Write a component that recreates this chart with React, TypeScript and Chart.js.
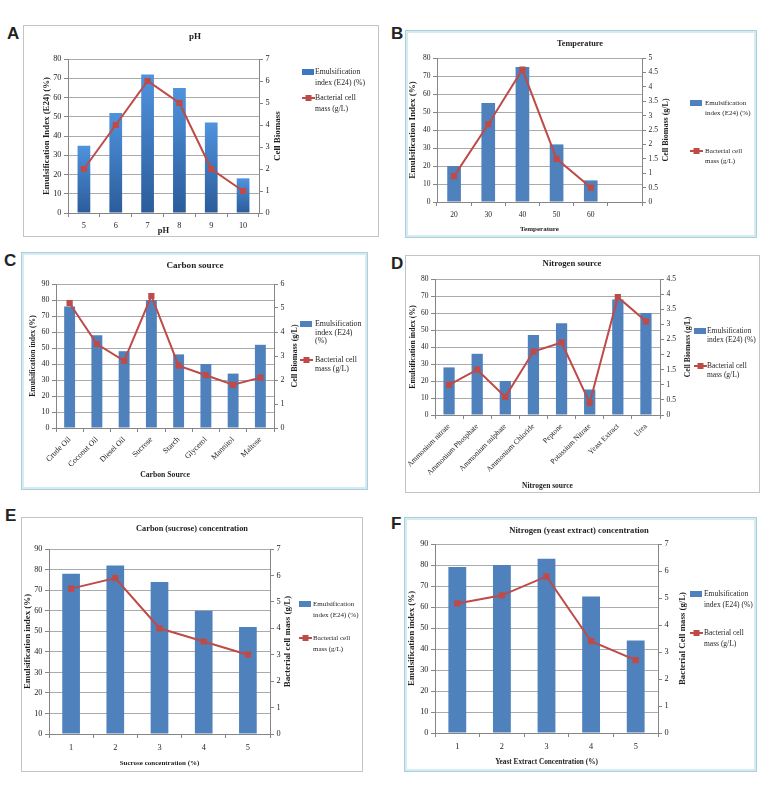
import React, { useEffect, useRef } from 'react';
import { Chart, registerables } from 'chart.js';

Chart.register(...registerables);

// ---------------- data ----------------
const phLabels = ['5', '6', '7', '8', '9', '10'];
const phEmulsification = [35, 52, 72, 65, 47, 18];
const phBiomass = [2, 4, 6, 5, 2, 1];

const tempLabels = ['20', '30', '40', '50', '60', ''];
const tempEmulsification = [20, 55, 75, 32, 12, null];
const tempBiomass = [0.9, 2.7, 4.6, 1.5, 0.5, null];

const carbonLabels = ['Crude Oil', 'Coconut Oil', 'Diesel Oil', 'Sucrose', 'Starch', 'Glycerol', 'Mannitol', 'Maltose'];
const carbonEmulsification = [76, 58, 48, 80, 46, 40, 34, 52];
const carbonBiomass = [5.2, 3.5, 2.8, 5.5, 2.6, 2.2, 1.8, 2.1];

const nitrogenLabels = ['Ammonium nitrate', 'Ammonium Phosphate', 'Ammonium sulphate', 'Ammonium Chloride', 'Peptone', 'Potassium Nitrate', 'Yeast Extract', 'Urea'];
const nitrogenEmulsification = [28, 36, 20, 47, 54, 15, 68, 60];
const nitrogenBiomass = [1.0, 1.5, 0.6, 2.1, 2.4, 0.4, 3.9, 3.1];

const sucroseLabels = ['1', '2', '3', '4', '5'];
const sucroseEmulsification = [78, 82, 74, 60, 52];
const sucroseBiomass = [5.5, 5.9, 4.0, 3.5, 3.0];

const yeastLabels = ['1', '2', '3', '4', '5'];
const yeastEmulsification = [79, 80, 83, 65, 44];
const yeastBiomass = [4.8, 5.1, 5.8, 3.4, 2.7];

const barLabel = 'Emulsification index (E24) (%)';
const lineLabel = 'Bacterial cell mass (g/L)';

// ---------------- styles ----------------
const FONT = "'Liberation Serif', 'Times New Roman', serif";
const BAR_BLUE = '#4f81bd';
const LINE_RED = '#be4b48';
const GRID = '#ababab';
const AXIS = '#868686';
const TEXT = '#1e1e1e';
const RIGHT_W = 25;
const LH = 1.2;

type Box = { x: number; y: number; w: number; h: number };
type Sizes = { tick: number; yTitle: number; y1Title: number; xTitle: number; title: number; legend: number };
type Panel = {
  letter: string;
  letterPos: [number, number];
  frame: Box;
  cyan: boolean;
  plot: { l: number; t: number; r: number; b: number };
  sizes: Sizes;
  title: string;
  titlePos: [number, number];
  xTitle: string;
  xTitleY: number;
  xLabelY: number;
  yTitle: string;
  yTitleX: number;
  y1Title: string;
  y1TitleX: number;
  labels: string[];
  bars: (number | null)[];
  line: (number | null)[];
  yMax: number;
  yStep: number;
  y1Max: number;
  y1Step: number;
  rotate: number;
  gradient: boolean;
  legend: { swatchX: number; textX: number; barY: number; lineY: number; spacing: number; barLines: string[]; lineLines: string[] };
};

const panels: Panel[] = [
  {
    letter: 'A', letterPos: [7, 25],
    frame: { x: 23, y: 25, w: 356, h: 212 }, cyan: false,
    plot: { l: 68, t: 59, r: 259, b: 213 },
    sizes: { tick: 8.3, yTitle: 8.8, y1Title: 9, xTitle: 8.5, title: 9, legend: 7.7 },
    title: 'pH', titlePos: [195, 37],
    xTitle: 'pH', xTitleY: 231, xLabelY: 226,
    yTitle: 'Emulsification Index (E24) (%)', yTitleX: 47,
    y1Title: 'Cell Biomass', y1TitleX: 278,
    labels: phLabels, bars: phEmulsification, line: phBiomass,
    yMax: 80, yStep: 10, y1Max: 7, y1Step: 1, rotate: 0, gradient: true,
    legend: { swatchX: 302, textX: 315, barY: 72, lineY: 98, spacing: 11, barLines: ['Emulsification', 'index (E24) (%)'], lineLines: ['Bacterial cell', 'mass (g/L)'] },
  },
  {
    letter: 'B', letterPos: [391, 25],
    frame: { x: 405, y: 30, w: 352, h: 208 }, cyan: true,
    plot: { l: 437, t: 58, r: 642, b: 202 },
    sizes: { tick: 7.5, yTitle: 9, y1Title: 8, xTitle: 7, title: 8.3, legend: 7 },
    title: 'Temperature', titlePos: [580, 44],
    xTitle: 'Temperature', xTitleY: 229, xLabelY: 215,
    yTitle: 'Emulsification Index (%)', yTitleX: 413,
    y1Title: 'Cell Biomass (g/L)', y1TitleX: 666,
    labels: tempLabels, bars: tempEmulsification, line: tempBiomass,
    yMax: 80, yStep: 10, y1Max: 5, y1Step: 0.5, rotate: 0, gradient: false,
    legend: { swatchX: 690, textX: 705, barY: 103, lineY: 151, spacing: 10.5, barLines: ['Emulsification', 'index (E24) (%)'], lineLines: ['Bacterial cell', 'mass (g/L)'] },
  },
  {
    letter: 'C', letterPos: [4, 252],
    frame: { x: 21, y: 252, w: 347, h: 238 }, cyan: true,
    plot: { l: 56, t: 284, r: 274, b: 428 },
    sizes: { tick: 7.9, yTitle: 7.6, y1Title: 8, xTitle: 7.7, title: 9.1, legend: 7.9 },
    title: 'Carbon source', titlePos: [195, 266],
    xTitle: 'Carbon Source', xTitleY: 475, xLabelY: 436,
    yTitle: 'Emulsification index (%)', yTitleX: 33,
    y1Title: 'Cell Biomass (g/L)', y1TitleX: 295,
    labels: carbonLabels, bars: carbonEmulsification, line: carbonBiomass,
    yMax: 90, yStep: 10, y1Max: 6, y1Step: 1, rotate: 45, gradient: false,
    legend: { swatchX: 300, textX: 315, barY: 324, lineY: 360, spacing: 8.5, barLines: ['Emulsification', 'index (E24)', '(%)'], lineLines: ['Bacterial cell', 'mass (g/L)'] },
  },
  {
    letter: 'D', letterPos: [391, 255],
    frame: { x: 405, y: 255, w: 355, h: 238 }, cyan: false,
    plot: { l: 435, t: 279, r: 660, b: 415 },
    sizes: { tick: 7.5, yTitle: 7.8, y1Title: 7.7, xTitle: 7.5, title: 8.7, legend: 7.5 },
    title: 'Nitrogen source', titlePos: [572, 264],
    xTitle: 'Nitrogen source', xTitleY: 486, xLabelY: 423,
    yTitle: 'Emulsification index (%)', yTitleX: 413,
    y1Title: 'Cell Biomass (g/L)', y1TitleX: 688,
    labels: nitrogenLabels, bars: nitrogenEmulsification, line: nitrogenBiomass,
    yMax: 80, yStep: 10, y1Max: 4.5, y1Step: 0.5, rotate: 45, gradient: false,
    legend: { swatchX: 694, textX: 707, barY: 331, lineY: 366, spacing: 9, barLines: ['Emulsification', 'index (E24) (%)'], lineLines: ['Bacterial cell', 'mass (g/L)'] },
  },
  {
    letter: 'E', letterPos: [5, 507],
    frame: { x: 21, y: 517, w: 342, h: 255 }, cyan: false,
    plot: { l: 49, t: 549, r: 270, b: 734 },
    sizes: { tick: 8.3, yTitle: 8.9, y1Title: 8.9, xTitle: 7, title: 8.3, legend: 7 },
    title: 'Carbon (sucrose) concentration', titlePos: [192, 529],
    xTitle: 'Sucrose concentration (%)', xTitleY: 763, xLabelY: 748,
    yTitle: 'Emulsification index (%)', yTitleX: 28,
    y1Title: 'Bacterial cell mass (g/L)', y1TitleX: 288,
    labels: sucroseLabels, bars: sucroseEmulsification, line: sucroseBiomass,
    yMax: 90, yStep: 10, y1Max: 7, y1Step: 1, rotate: 0, gradient: false,
    legend: { swatchX: 299, textX: 313, barY: 604, lineY: 638, spacing: 11.5, barLines: ['Emulsification', 'index (E24) (%)'], lineLines: ['Bacterial cell', 'mass (g/L)'] },
  },
  {
    letter: 'F', letterPos: [391, 515],
    frame: { x: 404, y: 517, w: 353, h: 255 }, cyan: true,
    plot: { l: 435, t: 544, r: 658, b: 733 },
    sizes: { tick: 8.3, yTitle: 8.9, y1Title: 8.8, xTitle: 7.3, title: 8.6, legend: 7.5 },
    title: 'Nitrogen (yeast extract) concentration', titlePos: [579, 531],
    xTitle: 'Yeast Extract Concentration (%)', xTitleY: 762, xLabelY: 747,
    yTitle: 'Emulsification index (%)', yTitleX: 412,
    y1Title: 'Bacterial Cell mass (g/L)', y1TitleX: 683,
    labels: yeastLabels, bars: yeastEmulsification, line: yeastBiomass,
    yMax: 90, yStep: 10, y1Max: 7, y1Step: 1, rotate: 0, gradient: false,
    legend: { swatchX: 690, textX: 704, barY: 594, lineY: 633, spacing: 11, barLines: ['Emulsification', 'index (E24) (%)'], lineLines: ['Bacterial cell', 'mass (g/L)'] },
  },
];

function PanelChart({ p }: { p: Panel }) {
  const ref = useRef<HTMLCanvasElement | null>(null);
  useEffect(() => {
    const canvas = ref.current;
    if (!canvas) return;
    const f = p.frame;
    const s = p.sizes;
    const padRight = f.w - (p.plot.r - f.x) - RIGHT_W;
    const tickFont = { family: FONT, size: s.tick, lineHeight: LH };
    const xLabelPad = p.rotate ? 3 : Math.max(0, p.xLabelY - p.plot.b - 4 - (s.tick * LH) / 2);
    const xTitlePad = Math.max(0, f.y + f.h - p.xTitleY - (s.xTitle * LH) / 2);
    const yTitlePad = Math.max(0, p.yTitleX - f.x - (s.yTitle * LH) / 2);

    const decor = {
      id: 'decor',
      beforeDraw(chart: any) {
        const ctx = chart.ctx;
        ctx.save();
        ctx.fillStyle = '#ffffff';
        ctx.fillRect(0, 0, f.w, f.h);
        if (p.cyan) {
          ctx.strokeStyle = '#d5eaf1';
          ctx.lineWidth = 3;
          ctx.strokeRect(1.5, 1.5, f.w - 3, f.h - 3);
          ctx.strokeStyle = '#a9d0dc';
          ctx.lineWidth = 1;
          ctx.strokeRect(0.5, 0.5, f.w - 1, f.h - 1);
        } else {
          ctx.strokeStyle = '#c4c4c4';
          ctx.lineWidth = 1;
          ctx.strokeRect(0.5, 0.5, f.w - 1, f.h - 1);
        }
        ctx.restore();
      },
      afterDraw(chart: any) {
        const ctx = chart.ctx;
        const area = chart.chartArea;
        ctx.save();
        ctx.fillStyle = TEXT;
        // chart title
        ctx.font = `bold ${s.title}px ${FONT}`;
        ctx.textAlign = 'center';
        ctx.textBaseline = 'middle';
        ctx.fillText(p.title, p.titlePos[0] - f.x, p.titlePos[1] - f.y);
        // secondary axis title (reads bottom to top)
        ctx.save();
        ctx.translate(p.y1TitleX - f.x, (area.top + area.bottom) / 2);
        ctx.rotate(-Math.PI / 2);
        ctx.font = `bold ${s.y1Title}px ${FONT}`;
        ctx.fillText(p.y1Title, 0, 0);
        ctx.restore();
        // legend
        const lg = p.legend;
        const sx = lg.swatchX - f.x;
        const tx = lg.textX - f.x;
        ctx.font = `${s.legend}px ${FONT}`;
        ctx.textAlign = 'left';
        const barDs = chart.data.datasets[1];
        const lineDs = chart.data.datasets[0];
        ctx.fillStyle = p.gradient ? '#3b78c3' : (barDs.backgroundColor as string);
        ctx.fillRect(sx, lg.barY - f.y - 3, 12, 6);
        ctx.fillStyle = TEXT;
        lg.barLines.forEach((t, i) => ctx.fillText(t, tx, lg.barY - f.y + i * lg.spacing));
        const ly = lg.lineY - f.y;
        ctx.strokeStyle = lineDs.borderColor as string;
        ctx.lineWidth = 2;
        ctx.beginPath();
        ctx.moveTo(sx, ly);
        ctx.lineTo(sx + 13, ly);
        ctx.stroke();
        ctx.fillStyle = lineDs.borderColor as string;
        ctx.fillRect(sx + 6.5 - 3, ly - 3, 6, 6);
        ctx.fillStyle = TEXT;
        lg.lineLines.forEach((t, i) => ctx.fillText(t, tx, ly + i * lg.spacing));
        ctx.restore();
      },
    };

    const barColor = p.gradient
      ? (c: any) => {
          const chart = c.chart;
          const area = chart.chartArea;
          if (!area || c.type !== 'data' || c.raw == null) return BAR_BLUE;
          const top = chart.scales.y.getPixelForValue(c.raw);
          const g = chart.ctx.createLinearGradient(0, top, 0, area.bottom);
          g.addColorStop(0, '#4f93de');
          g.addColorStop(1, '#2b5c9a');
          return g;
        }
      : BAR_BLUE;

    const chart = new Chart(canvas, {
      type: 'bar',
      data: {
        labels: p.labels,
        datasets: [
          {
            type: 'line',
            label: lineLabel,
            data: p.line,
            yAxisID: 'y1',
            borderColor: LINE_RED,
            backgroundColor: LINE_RED,
            borderWidth: 2,
            pointStyle: 'rect',
            pointRadius: 4.4,
            pointBackgroundColor: LINE_RED,
            pointBorderColor: LINE_RED,
            pointBorderWidth: 0,
            tension: 0,
            order: 1,
          } as any,
          {
            type: 'bar',
            label: barLabel,
            data: p.bars,
            yAxisID: 'y',
            backgroundColor: barColor as any,
            barPercentage: 0.4,
            categoryPercentage: 1,
            order: 2,
          } as any,
        ],
      },
      options: {
        responsive: false,
        animation: false,
        events: [],
        layout: { padding: { left: 0, top: p.plot.t - f.y, right: padRight, bottom: 0 } },
        plugins: { legend: { display: false }, title: { display: false }, tooltip: { enabled: false } },
        scales: {
          x: {
            offset: true,
            grid: { display: true, drawOnChartArea: false, drawTicks: true, tickLength: 4, offset: true, color: AXIS, tickColor: AXIS },
            border: { display: true, color: AXIS },
            ticks: { font: tickFont, color: TEXT, padding: xLabelPad, minRotation: p.rotate, maxRotation: p.rotate, autoSkip: false },
            title: { display: true, text: p.xTitle, font: { family: FONT, size: s.xTitle, weight: 'bold', lineHeight: LH }, color: TEXT, padding: { top: 0, bottom: xTitlePad } },
            afterFit: (sc: any) => {
              sc.height = f.y + f.h - p.plot.b;
              sc.paddingLeft = 0;
              sc.paddingRight = 0;
            },
          },
          y: {
            position: 'left',
            min: 0,
            max: p.yMax,
            ticks: { stepSize: p.yStep, font: tickFont, color: TEXT, padding: 2.5 },
            grid: { color: GRID, tickColor: AXIS, tickLength: 4, drawTicks: true },
            border: { display: true, color: AXIS },
            title: { display: true, text: p.yTitle, font: { family: FONT, size: s.yTitle, weight: 'bold', lineHeight: LH }, color: TEXT, padding: { top: yTitlePad, bottom: 0 } },
            afterFit: (sc: any) => {
              sc.width = p.plot.l - f.x;
              sc.paddingTop = 0;
              sc.paddingBottom = 0;
            },
          },
          y1: {
            position: 'right',
            min: 0,
            max: p.y1Max,
            ticks: { stepSize: p.y1Step, font: tickFont, color: TEXT, padding: 2.5, callback: (v: any) => String(v) },
            grid: { drawOnChartArea: false, tickColor: AXIS, tickLength: 4, drawTicks: true },
            border: { display: true, color: AXIS },
            afterFit: (sc: any) => {
              sc.width = RIGHT_W;
              sc.paddingTop = 0;
              sc.paddingBottom = 0;
            },
          },
        },
      } as any,
      plugins: [decor],
    });
    return () => chart.destroy();
  }, [p]);

  return (
    <canvas
      ref={ref}
      width={p.frame.w}
      height={p.frame.h}
      style={{ position: 'absolute', left: p.frame.x, top: p.frame.y, width: p.frame.w, height: p.frame.h }}
    />
  );
}

export default function App() {
  return (
    <div style={{ position: 'absolute', left: 0, top: 0, width: 775, height: 785, background: '#ffffff', overflow: 'hidden' }}>
      {panels.map((p) => (
        <React.Fragment key={p.letter}>
          <div
            style={{
              position: 'absolute',
              left: p.letterPos[0],
              top: p.letterPos[1],
              fontFamily: "'Liberation Sans', Arial, sans-serif",
              fontWeight: 'bold',
              fontSize: 17,
              lineHeight: '17px',
              color: '#222',
            }}
          >
            {p.letter}
          </div>
          <PanelChart p={p} />
        </React.Fragment>
      ))}
    </div>
  );
}
